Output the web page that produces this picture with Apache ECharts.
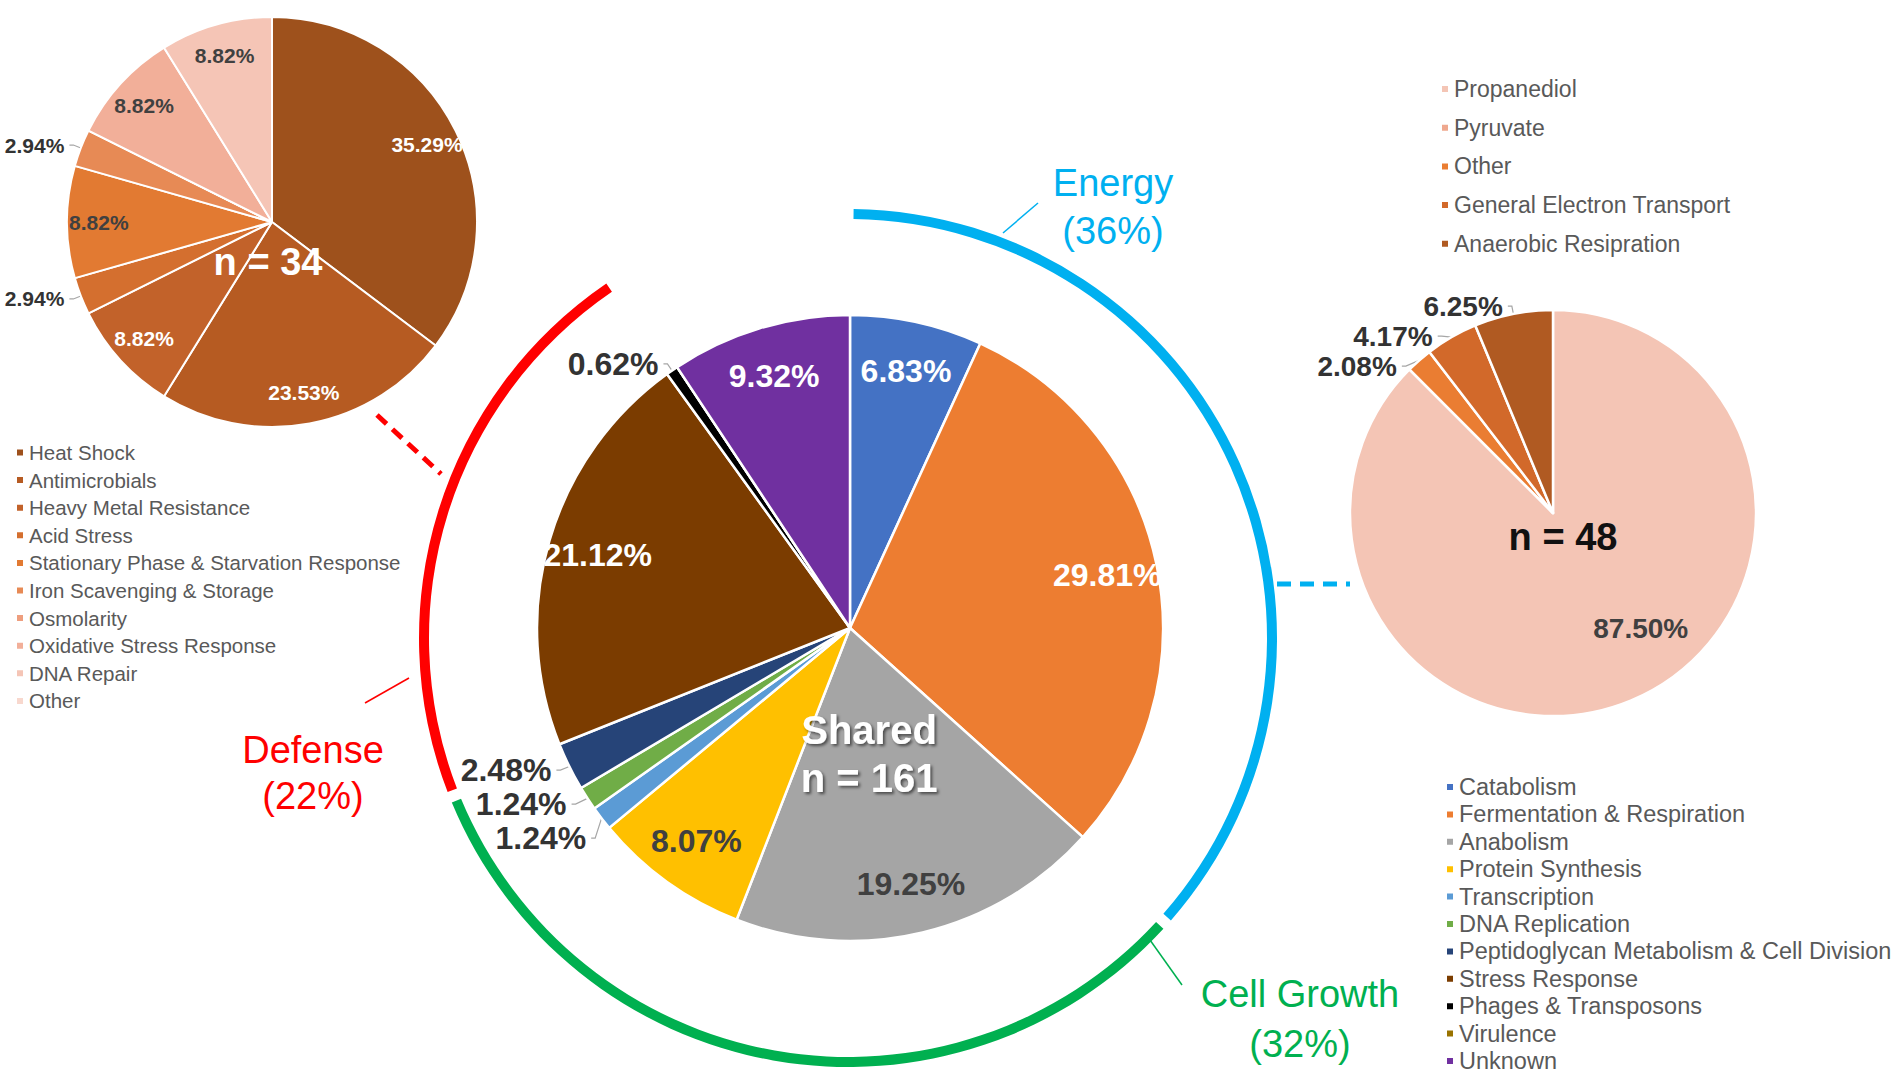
<!DOCTYPE html>
<html><head><meta charset="utf-8">
<script src="https://cdn.jsdelivr.net/npm/echarts@6/dist/echarts.min.js"></script>
<style>html,body{margin:0;padding:0;background:#fff}#c{width:1902px;height:1080px}</style>
</head><body><div id="c"></div>
<script>
// ---------------- DATA ----------------
const mainCategories = ['Catabolism','Fermentation & Respiration','Anabolism','Protein Synthesis','Transcription','DNA Replication','Peptidoglycan Metabolism & Cell Division','Stress Response','Phages & Transposons','Virulence','Unknown'];
const mainValues = [11,48,31,13,2,2,4,34,1,0,15];
const mainGroups = ['Energy','Energy','Cell Growth','Cell Growth','Cell Growth','Cell Growth','Cell Growth','Defense','Defense','Defense',''];

const groupNames = ['Energy','Cell Growth','Defense'];
const groupPctLabels = ['(36%)','(32%)','(22%)'];

const defenseCategories = ['Heat Shock','Antimicrobials','Heavy Metal Resistance','Acid Stress','Stationary Phase & Starvation Response','Iron Scavenging & Storage','Osmolarity','Oxidative Stress Response','DNA Repair','Other'];
const defenseValues = [12,8,3,1,3,1,0,3,3,0];

const energyCategories = ['Propanediol','Pyruvate','Other','General Electron Transport','Anaerobic Resipration'];
const energyValues = [42,0,1,2,3];

// ---------------- STYLES ----------------
const mainColors = ['#4472C4','#ED7D31','#A5A5A5','#FFC000','#5B9BD5','#70AD47','#264478','#7B3C00','#000000','#997300','#7030A0'];
const mainLabelColors = ['#fff','#fff','#404040','#404040','#fff','#fff','#fff','#fff','#fff','#fff','#fff'];
const groupColors = ['#00B0F0','#00B050','#FF0000'];
const defenseColors = ['#9E511C','#B65B22','#C2622A','#D46F2F','#E27A32','#E78A55','#EE9E7E','#F2AF99','#F5C5B6','#F8D8CE'];
const defenseLabelColors = ['#fff','#fff','#fff','#404040','#404040','#404040','#404040','#404040','#404040','#404040'];
const energyColors = ['#F4C5B5','#EFA88E','#EA7D32','#D2692A','#B05A22'];
const energyLabelColors = ['#404040','#404040','#404040','#404040','#404040'];

const FONT = '"Liberation Sans", Arial, sans-serif';
const sum = a => a.reduce((s, v) => s + v, 0);
const mainTotal = sum(mainValues);
const defenseTotal = sum(defenseValues);
const energyTotal = sum(energyValues);

// geometry
const MAIN_C = [850, 628], MAIN_R = 313;
const RING_C = [848, 638], RING_R = [419, 429];
const DEF_C = [272, 222], DEF_R = 205;
const EN_C = [1553, 513], EN_R = 203;

function fillData(names, values, colors) {
  return names.map((n, i) => ({ name: n, value: values[i], itemStyle: { color: colors[i] } }));
}
function labelData(names, values, labelColors, threshold, fontSize, bigPadding) {
  const total = sum(values);
  return names.map((n, i) => {
    const v = values[i];
    const outside = v / total < threshold;
    const lab = v === 0 ? { show: false } : {
      show: true, position: outside ? 'outside' : 'inside',
      color: outside ? '#333333' : labelColors[i], fontSize: fontSize
    };
    if (bigPadding && !outside && v > 0) lab.padding = bigPadding;
    return { name: n, value: v, label: lab, labelLine: { show: v > 0 && outside } };
  });
}

function basePie(center, radius, data, border) {
  return {
    type: 'pie', center: center, radius: radius, data: data,
    startAngle: 90, clockwise: true, silent: true,
    label: { show: false }, labelLine: { show: false },
    itemStyle: { borderColor: '#fff', borderWidth: border },
    emphasis: { disabled: true }
  };
}
function labelPie(center, radius, data, total) {
  return {
    type: 'pie', center: center, radius: radius, data: data,
    startAngle: 90, clockwise: true, silent: true,
    itemStyle: { color: 'rgba(0,0,0,0)', borderWidth: 0 },
    label: { show: true, fontWeight: 'bold', fontFamily: FONT, overflow: 'none', edgeDistance: 0,
      formatter: p => (p.value / total * 100).toFixed(2) + '%' },
    labelLine: { length: 8, length2: 4, lineStyle: { color: '#A6A6A6', width: 1.2 } },
    emphasis: { disabled: true }
  };
}

// group ring
const groupValues = groupNames.map(g => sum(mainValues.filter((v, i) => mainGroups[i] === g)));
const ringData = groupNames.map((g, i) => ({ name: g, value: groupValues[i], itemStyle: { color: groupColors[i] } }));
ringData.push({ name: 'ungrouped', value: mainTotal - sum(groupValues), itemStyle: { color: 'rgba(0,0,0,0)' } });

function legendData(names, colors) {
  return names.map((n, i) => ({ name: n, itemStyle: { color: colors[i] } }));
}
const legendText = (fs) => ({ color: '#595959', fontSize: fs, lineHeight: fs, fontFamily: FONT });
function legendBox(left, top, gap, fs, names, colors, h) {
  return { orient: 'vertical', left: left, top: top, height: h, padding: 0, itemWidth: 8, itemHeight: 8, itemGap: gap,
    icon: 'rect', selectedMode: false, textStyle: legendText(fs), data: legendData(names, colors) };
}

const chart = echarts.init(document.getElementById('c'), null, { renderer: 'svg' });
chart.setOption({
  animation: false,
  backgroundColor: '#fff',
  textStyle: { fontFamily: FONT },
  legend: [
    legendBox(15, 442, 6.6, 20.5, defenseCategories, defenseColors, 300),
    legendBox(1440, 77.5, 15.7, 23, energyCategories, energyColors, 220),
    legendBox(1445, 775, 3.4, 23.5, mainCategories, mainColors, 303)
  ],
  series: [
    basePie(MAIN_C, MAIN_R, fillData(mainCategories, mainValues, mainColors), 2.5),
    basePie(DEF_C, DEF_R, fillData(defenseCategories, defenseValues, defenseColors), 2),
    basePie(EN_C, EN_R, fillData(energyCategories, energyValues, energyColors), 2.5),
    Object.assign(basePie(RING_C, RING_R, ringData, 0), { padAngle: 1.5 }),
    labelPie(MAIN_C, [MAIN_R * 0.66, MAIN_R], labelData(mainCategories, mainValues, mainLabelColors, 0.03, 32), mainTotal),
    labelPie(DEF_C, [DEF_R * 0.66, DEF_R], labelData(defenseCategories, defenseValues, defenseLabelColors, 0.05, 21), defenseTotal),
    labelPie(EN_C, [EN_R * 0.2, EN_R], labelData(energyCategories, energyValues, energyLabelColors, 0.10, 28, [0, 0, 0, 80]), energyTotal)
  ],
  graphic: [
    { type: 'text', x: 869, y: 754, z: 100, style: { text: 'Shared\nn = ' + mainTotal, fill: '#fff',
      font: 'bold 40px ' + FONT, align: 'center', verticalAlign: 'middle', lineHeight: 48,
      shadowColor: 'rgba(0,0,0,0.55)', shadowBlur: 3, shadowOffsetX: 2, shadowOffsetY: 2,
      textShadowColor: 'rgba(0,0,0,0.55)', textShadowBlur: 3, textShadowOffsetX: 2, textShadowOffsetY: 2 } },
    { type: 'text', x: 268, y: 262, z: 100, style: { text: 'n = ' + defenseTotal, fill: '#fff',
      font: 'bold 38px ' + FONT, align: 'center', verticalAlign: 'middle' } },
    { type: 'text', x: 1563, y: 537, z: 100, style: { text: 'n = ' + energyTotal, fill: '#111',
      font: 'bold 38px ' + FONT, align: 'center', verticalAlign: 'middle' } },
    { type: 'text', x: 1113, y: 207, z: 100, style: { text: groupNames[0] + '\n' + groupPctLabels[0], fill: groupColors[0],
      font: '38px ' + FONT, align: 'center', verticalAlign: 'middle', lineHeight: 48 } },
    { type: 'text', x: 1300, y: 1019, z: 100, style: { text: groupNames[1] + '\n' + groupPctLabels[1], fill: groupColors[1],
      font: '38px ' + FONT, align: 'center', verticalAlign: 'middle', lineHeight: 50 } },
    { type: 'text', x: 313, y: 773, z: 100, style: { text: groupNames[2] + '\n' + groupPctLabels[2], fill: groupColors[2],
      font: '38px ' + FONT, align: 'center', verticalAlign: 'middle', lineHeight: 46 } },
    { type: 'line', z: 100, shape: { x1: 1003, y1: 233, x2: 1038, y2: 203 }, style: { stroke: groupColors[0], lineWidth: 1.5 } },
    { type: 'line', z: 100, shape: { x1: 1150, y1: 940, x2: 1182, y2: 985 }, style: { stroke: groupColors[1], lineWidth: 1.5 } },
    { type: 'line', z: 100, shape: { x1: 365, y1: 703, x2: 409, y2: 678 }, style: { stroke: groupColors[2], lineWidth: 1.5 } },
    { type: 'line', z: 100, shape: { x1: 377, y1: 415, x2: 441, y2: 474 }, style: { stroke: groupColors[2], lineWidth: 5, lineDash: [13, 8] } },
    { type: 'line', z: 100, shape: { x1: 1277, y1: 584, x2: 1350, y2: 584 }, style: { stroke: groupColors[0], lineWidth: 5, lineDash: [14, 9] } }
  ]
});
</script>
</body></html>
